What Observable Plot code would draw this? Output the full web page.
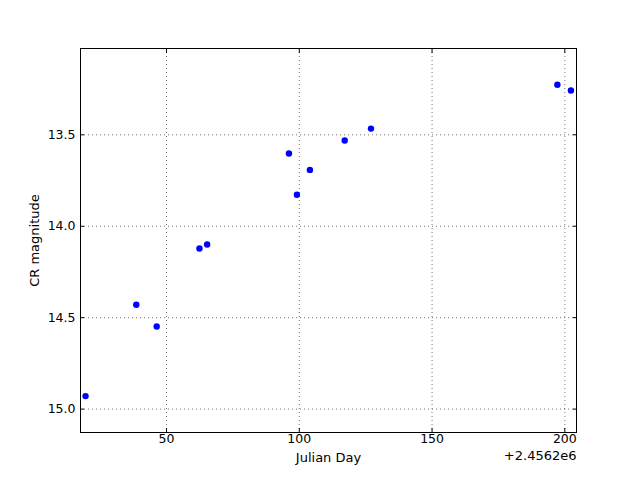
<!DOCTYPE html>
<html>
<head>
<meta charset="utf-8">
<script src="https://cdn.jsdelivr.net/npm/d3@7"></script>
<script src="https://cdn.jsdelivr.net/npm/@observablehq/plot@0.6"></script>
<style>
  html, body { margin: 0; padding: 0; background: #fff; }
  #chart svg { display: block; }
</style>
</head>
<body>
<div id="chart"></div>
<script>
// Julian Day offsets from 2456200
const julianDay = [19.5, 38.6, 46.3, 62.4, 65.3, 96.1, 99.1, 104.0, 117.1, 127.0, 197.2, 202.3];
const crMagnitude = [14.929, 14.429, 14.548, 14.122, 14.100, 13.602, 13.828, 13.692, 13.531, 13.466, 13.226, 13.258];
const xTicks = [50, 100, 150, 200];
const yTicks = [13.5, 14.0, 14.5, 15.0];
const xLabel = "Julian Day";
const yLabel = "CR magnitude";
const offsetLabel = "+2.4562e6";

const data = julianDay.map((x, i) => ({x, y: crMagnitude[i]}));
const fmtY = d3.format(".1f");
const gridStyle = {stroke: "#000", strokeOpacity: 0.55, strokeWidth: 1, strokeDasharray: "1,3"};

const chart = Plot.plot({
  width: 640,
  height: 480,
  marginLeft: 80,
  marginRight: 64,
  marginTop: 48,
  marginBottom: 48,
  style: {fontFamily: "DejaVu Sans", fontSize: "12.5px", color: "#000", background: "#fff"},
  x: {domain: [17.6, 204.4], ticks: xTicks},
  y: {domain: [13.028, 15.128], reverse: true, ticks: yTicks},
  marks: [
    Plot.gridX(xTicks, gridStyle),
    Plot.gridY(yTicks, gridStyle),
    Plot.frame({stroke: "#000", strokeWidth: 1}),
    // labels
    Plot.axisX(xTicks, {anchor: "bottom", tickSize: 0, tickPadding: 2, label: null, fontSize: 12.5}),
    Plot.axisY(yTicks, {anchor: "left", tickSize: 0, tickPadding: 5, tickFormat: fmtY, label: null, fontSize: 12.5}),
    // inward ticks on all sides
    Plot.axisX(xTicks, {anchor: "bottom", tickSize: 4, dy: -4, tickFormat: () => "", label: null}),
    Plot.axisX(xTicks, {anchor: "top", tickSize: 4, dy: 4, tickFormat: () => "", label: null}),
    Plot.axisY(yTicks, {anchor: "left", tickSize: 4, dx: 4, tickFormat: () => "", label: null}),
    Plot.axisY(yTicks, {anchor: "right", tickSize: 4, dx: -4, tickFormat: () => "", label: null}),
    Plot.text([xLabel], {frameAnchor: "bottom", textAnchor: "middle", dy: 25, fontSize: 13, lineAnchor: "middle"}),
    Plot.text([offsetLabel], {frameAnchor: "bottom-right", textAnchor: "end", dy: 23, fontSize: 13, lineAnchor: "middle"}),
    Plot.text([yLabel], {frameAnchor: "left", textAnchor: "middle", dx: -46, rotate: -90, fontSize: 13, lineAnchor: "middle"}),
    Plot.dot(data, {x: "x", y: "y", r: 3.2, fill: "#0000ff", stroke: null})
  ]
});
document.getElementById("chart").appendChild(chart);
</script>
</body>
</html>
